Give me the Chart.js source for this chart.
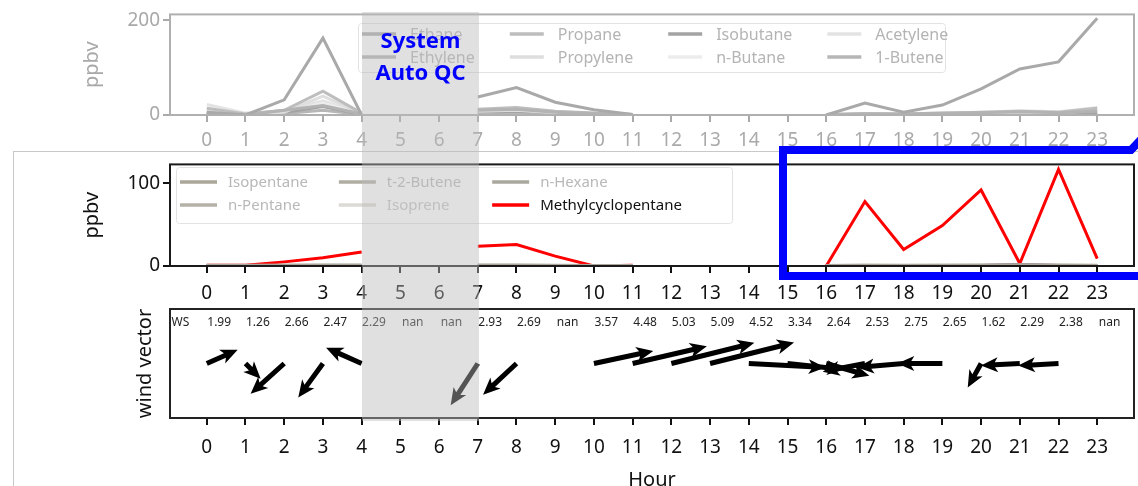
<!DOCTYPE html>
<html>
<head>
<meta charset="utf-8">
<script src="https://cdn.jsdelivr.net/npm/chart.js@4.4.1/dist/chart.umd.min.js"></script>
<style>
  body { margin: 0; width: 1138px; height: 486px; overflow: hidden; position: relative; background: #fff; }
  canvas { position: absolute; left: 0; }
  #top { top: 0; }
  #mid { top: 150px; }
  #wind { top: 300px; }
  #frame { position: absolute; left: 13px; top: 151px; width: 1200px; height: 400px; border-top: 1px solid #c8c8c8; border-left: 1px solid #c8c8c8; }
  #qc { position: absolute; left: 362px; top: 12px; width: 117px; height: 409px; background: rgba(187,187,187,0.45); }
  #qcText { position: absolute; left: 342px; top: 23px; width: 157px; text-align: center; color: #0000ff; font: bold 22px "Noto Sans", sans-serif; line-height: 32px; }
  #blue { position: absolute; left: 0; top: 0; }
</style>
</head>
<body>
<div id="frame"></div>
<canvas id="top" width="1138" height="152"></canvas>
<canvas id="mid" width="1138" height="160"></canvas>
<canvas id="wind" width="1138" height="200"></canvas>
<div id="qc"></div>
<div id="qcText">System<br>Auto QC</div>
<svg id="blue" width="1138" height="486"><polyline points="1146,134 1131,150 783,150 783,276 1146,276" fill="none" stroke="#0000ff" stroke-width="8"/></svg>
<script>
const hours = [0, 1, 2, 3, 4, 5, 6, 7, 8, 9, 10, 11, 12, 13, 14, 15, 16, 17, 18, 19, 20, 21, 22, 23];
const topYTicks = [0, 200];
const midYTicks = [0, 100];

// top panel (faded), gaps = no data
const ethane    = [6, 0, 32, 162, 0, null, null, 38, 58, 27, 11, 1, null, null, null, null, 0, 25, 6, 21, 55, 97, 112, 204];
const ethylene  = [4, 0, 10, 20, 2, null, null, 10, 12, 6, 3, 1, null, null, null, null, 0, 2, 2, 4, 5, 7, 5, 8];
const propane   = [14, 2, 10, 50, 4, null, null, 12, 16, 8, 4, 1, null, null, null, null, 1, 3, 2, 3, 6, 8, 6, 14];
const propylene = [8, 1, 6, 40, 3, null, null, 8, 10, 5, 3, 1, null, null, null, null, 1, 2, 1, 2, 4, 5, 4, 10];
const isobutane = [3, 0, 5, 18, 1, null, null, 6, 8, 4, 2, 0, null, null, null, null, 0, 1, 1, 1, 2, 3, 2, 4];
const nButane   = [10, 1, 5, 25, 2, null, null, 6, 9, 4, 2, 1, null, null, null, null, 1, 2, 2, 3, 5, 6, 4, 9];
const acetylene = [22, 4, 8, 30, 3, null, null, 10, 14, 7, 3, 1, null, null, null, null, 1, 3, 2, 4, 6, 9, 7, 16];
const butene1   = [2, 0, 3, 10, 1, null, null, 4, 5, 3, 1, 0, null, null, null, null, 0, 1, 1, 1, 2, 2, 2, 3];

// middle panel
const isopentane = [1, 1, 1, 1, 1, null, null, 1, 1, 1, 0.5, 0.5, null, null, null, null, 0.5, 1, 1, 1, 1, 1.5, 1, 1];
const t2Butene   = [0.5, 0.5, 0.5, 0.5, 0.5, null, null, 0.5, 0.5, 0.5, 0.5, 0.5, null, null, null, null, 0.5, 0.5, 0.5, 0.5, 0.5, 1, 0.5, 0.5];
const nHexane    = [0.5, 0.5, 0.5, 1, 1, null, null, 1, 1, 0.5, 0.5, 0.5, null, null, null, null, 0.5, 0.5, 0.5, 0.5, 1, 1, 1, 0.5];
const nPentane   = [0.5, 0.5, 1, 1, 1, null, null, 1, 1, 0.5, 0.5, 0.5, null, null, null, null, 0.5, 1, 0.5, 1, 1, 1, 1, 0.5];
const isoprene   = [0, 0, 0, 0, 0, null, null, 0, 0, 0, 0, 0, null, null, null, null, 0, 0, 0, 0, 0, 0, 0, 0];
const methylcyclopentane = [1, 1, 5, 10, 17, null, null, 24, 26, 12, 0, 1, null, null, null, null, 0, 78, 20, 49, 92, 3, 117, 9];
const others     = [0.8, 0.8, 0.8, 0.8, 0.8, null, null, 0.8, 0.8, 0.8, 0.8, 0.8, null, null, null, null, 0.8, 0.8, 0.8, 0.8, 1, 2, 1, 0.8];

// wind: speed (m/s) and direction the arrow points (deg, 0 = east, ccw)
const windSpeed = [1.99, 1.26, 2.66, 2.47, 2.29, null, null, 2.93, 2.69, null, 3.57, 4.48, 5.03, 5.09, 4.52, 3.34, 2.64, 2.53, 2.75, 2.65, 1.62, 2.29, 2.38, null];
const windDir   = [24, -45, 222, 234, 156, null, null, 237, 223, null, 12, 13, 14, 14, -3, -6, -16, 191, 185, 180, 241, 183, 183, null];

Chart.defaults.font.family = '"Noto Sans", sans-serif';
Chart.defaults.animation = false;

const xy = arr => hours.map((h, i) => ({ x: h, y: arr[i] }));

const framePlugin = {
  id: 'frame',
  afterDatasetsDraw(chart, args, o) {
    const a = chart.chartArea, ctx = chart.ctx;
    ctx.save();
    ctx.strokeStyle = o.color;
    ctx.lineWidth = o.width;
    ctx.strokeRect(a.left, a.top, a.right - a.left, a.bottom - a.top);
    ctx.restore();
  }
};

// matplotlib-like legend: columns filled top to bottom
const gridLegend = {
  id: 'gridLegend',
  afterDatasetsDraw(chart, args, o) {
    const ctx = chart.ctx;
    const items = chart.data.datasets.filter(d => d.label);
    const nrow = Math.ceil(items.length / o.ncol);
    ctx.save();
    ctx.fillStyle = 'rgba(255,255,255,0.8)';
    ctx.strokeStyle = '#e2e2e2';
    ctx.lineWidth = 1;
    ctx.beginPath();
    ctx.roundRect(o.box[0] + 0.5, o.box[1] + 0.5, o.box[2] - o.box[0], o.box[3] - o.box[1], 3);
    ctx.fill();
    ctx.stroke();
    ctx.font = o.fontSize + 'px "Noto Sans"';
    ctx.textBaseline = 'middle';
    let x = o.x;
    for (let c = 0; c < o.ncol; c++) {
      let maxW = 0;
      for (let r = 0; r < nrow; r++) {
        const ds = items[c * nrow + r];
        if (!ds) continue;
        const y = o.y + r * o.rowH;
        ctx.strokeStyle = ds.borderColor;
        ctx.lineWidth = ds.borderWidth + 0.5;
        ctx.beginPath();
        ctx.moveTo(x, y);
        ctx.lineTo(x + o.handle, y);
        ctx.stroke();
        ctx.fillStyle = ds.labelColor;
        ctx.fillText(ds.label, x + o.handle + o.gap, y + 1);
        maxW = Math.max(maxW, ctx.measureText(ds.label).width);
      }
      x += o.handle + o.gap + maxW + o.colGap;
    }
    ctx.restore();
  }
};

const windPlugin = {
  id: 'wind',
  afterDatasetsDraw(chart, args, o) {
    const { ctx, chartArea, scales: { x } } = chart;
    ctx.save();
    ctx.font = '12px "Noto Sans"';
    ctx.fillStyle = '#222';
    ctx.textAlign = 'center';
    ctx.textBaseline = 'middle';
    const ty = chartArea.top + o.textOffset;
    ctx.fillText('WS', x.getPixelForValue(-0.68), ty);
    windSpeed.forEach((s, i) => {
      ctx.fillText(s === null ? 'nan' : s.toFixed(2), x.getPixelForValue(hours[i] + 0.32), ty);
    });
    const meta = chart.getDatasetMeta(0);
    ctx.fillStyle = '#000';
    meta.data.forEach((pt, i) => {
      const s = windSpeed[i];
      if (s === null) return;
      const a = windDir[i] * Math.PI / 180;
      const L = s * o.pxPerUnit;
      const w = o.shaft, hl = o.headLen, hal = o.headAxis, hw = o.headWidth;
      ctx.save();
      ctx.translate(pt.x, pt.y);
      ctx.rotate(-a);
      ctx.beginPath();
      ctx.moveTo(0, -w / 2);
      ctx.lineTo(L - hal, -w / 2);
      ctx.lineTo(L - hl, -hw / 2);
      ctx.lineTo(L, 0);
      ctx.lineTo(L - hl, hw / 2);
      ctx.lineTo(L - hal, w / 2);
      ctx.lineTo(0, w / 2);
      ctx.closePath();
      ctx.fill();
      ctx.restore();
    });
    ctx.restore();
  }
};

function xAxis(color, pad, height, title) {
  return {
    type: 'linear', min: -0.95, max: 23.95,
    afterBuildTicks: s => { s.ticks = hours.map(v => ({ value: v })); },
    afterFit: s => { s.height = height; },
    grid: { drawOnChartArea: false, drawTicks: true, tickLength: 7, color: color, lineWidth: 2 },
    border: { display: false },
    ticks: { color: color, font: { size: 19 }, padding: pad, maxRotation: 0, autoSkip: false },
    title: title ? { display: true, text: 'Hour', color: '#111', font: { size: 20 }, padding: { top: 0, bottom: 8 } } : { display: false }
  };
}

// ---- top chart (faded) ----
const grayDs = (label, data, color, labelColor) => ({
  label, data: xy(data), borderColor: color, borderWidth: 3, pointRadius: 0, labelColor, spanGaps: false
});
new Chart(document.getElementById('top'), {
  type: 'line',
  data: {
    datasets: [
      grayDs('Ethane', ethane, '#a9a9a9', '#b4b4b4'),
      grayDs('Ethylene', ethylene, '#b3b3b3', '#b4b4b4'),
      grayDs('Propane', propane, '#bdbdbd', '#b4b4b4'),
      grayDs('Propylene', propylene, '#dedede', '#b4b4b4'),
      grayDs('Isobutane', isobutane, '#a3a3a3', '#b4b4b4'),
      grayDs('n-Butane', nButane, '#ececec', '#b4b4b4'),
      grayDs('Acetylene', acetylene, '#e3e3e3', '#b4b4b4'),
      grayDs('1-Butene', butene1, '#b6b6b6', '#b4b4b4')
    ]
  },
  options: {
    responsive: false,
    layout: { padding: { left: 80, top: 14, right: 4, bottom: 0 } },
    scales: {
      x: xAxis('#aaaaaa', 7, 37, false),
      y: {
        min: 0, max: 212,
        afterBuildTicks: s => { s.ticks = topYTicks.map(v => ({ value: v })); },
        afterFit: s => { s.width = 90; },
        grid: { drawOnChartArea: false, tickLength: 7, color: '#aaaaaa', lineWidth: 2 },
        border: { display: false },
        ticks: { color: '#a8a8a8', font: { size: 19 }, padding: 3 },
        title: { display: true, text: 'ppbv', color: '#a8a8a8', font: { size: 20 }, padding: 0 }
      }
    },
    plugins: {
      legend: { display: false }, tooltip: { enabled: false },
      frame: { color: '#b0b0b0', width: 2 },
      gridLegend: { x: 362, y: 34, rowH: 23, ncol: 4, handle: 34, gap: 14, colGap: 35, fontSize: 16, box: [358, 23, 945, 72] }
    }
  },
  plugins: [framePlugin, gridLegend]
});

// ---- middle chart ----
new Chart(document.getElementById('mid'), {
  type: 'line',
  data: {
    datasets: [
      grayDs('Isopentane', isopentane, '#aaa699', '#b8b8b8'),
      grayDs('n-Pentane', nPentane, '#b4b1a6', '#b8b8b8'),
      grayDs('t-2-Butene', t2Butene, '#b0ada3', '#b8b8b8'),
      grayDs('Isoprene', isoprene, '#dcdad4', '#c4c4c4'),
      grayDs('n-Hexane', nHexane, '#aaa89e', '#b8b8b8'),
      grayDs('Methylcyclopentane', methylcyclopentane, '#ff0000', '#111111'),
      { label: '', data: xy(others), borderColor: '#5a2a6e', borderWidth: 2.5, pointRadius: 0 }
    ]
  },
  options: {
    responsive: false,
    layout: { padding: { left: 80, top: 9, right: 4, bottom: 0 } },
    scales: {
      x: xAxis('#111111', 9, 44, false),
      y: {
        min: 0, max: 123,
        afterBuildTicks: s => { s.ticks = midYTicks.map(v => ({ value: v })); },
        afterFit: s => { s.width = 90; },
        grid: { drawOnChartArea: false, tickLength: 7, color: '#111', lineWidth: 2 },
        border: { display: false },
        ticks: { color: '#111', font: { size: 19 }, padding: 3 },
        title: { display: true, text: 'ppbv', color: '#111', font: { size: 20 }, padding: 0 }
      }
    },
    plugins: {
      legend: { display: false }, tooltip: { enabled: false },
      frame: { color: '#1a1a1a', width: 2 },
      gridLegend: { x: 180, y: 32, rowH: 23, ncol: 3, handle: 37, gap: 11, colGap: 31, fontSize: 15, box: [176, 17, 732, 73] }
    }
  },
  plugins: [framePlugin, gridLegend]
});

// ---- wind chart ----
new Chart(document.getElementById('wind'), {
  type: 'scatter',
  data: {
    datasets: [{ data: hours.map(h => ({ x: h, y: 0 })), pointRadius: 0, showLine: false }]
  },
  options: {
    responsive: false,
    layout: { padding: { left: 133, top: 9, right: 4, bottom: 0 } },
    scales: {
      x: xAxis('#111111', 11, 82, true),
      y: {
        min: -1, max: 1,
        afterFit: s => { s.width = 37; },
        grid: { display: false, drawTicks: false },
        border: { display: false },
        ticks: { display: false },
        title: { display: true, text: 'wind vector', color: '#111', font: { size: 20 }, padding: 0 }
      }
    },
    plugins: {
      legend: { display: false }, tooltip: { enabled: false },
      frame: { color: '#222', width: 2 },
      wind: { textOffset: 14, pxPerUnit: 17, shaft: 5, headLen: 17, headAxis: 14, headWidth: 15 }
    }
  },
  plugins: [framePlugin, windPlugin]
});
</script>
</body>
</html>
